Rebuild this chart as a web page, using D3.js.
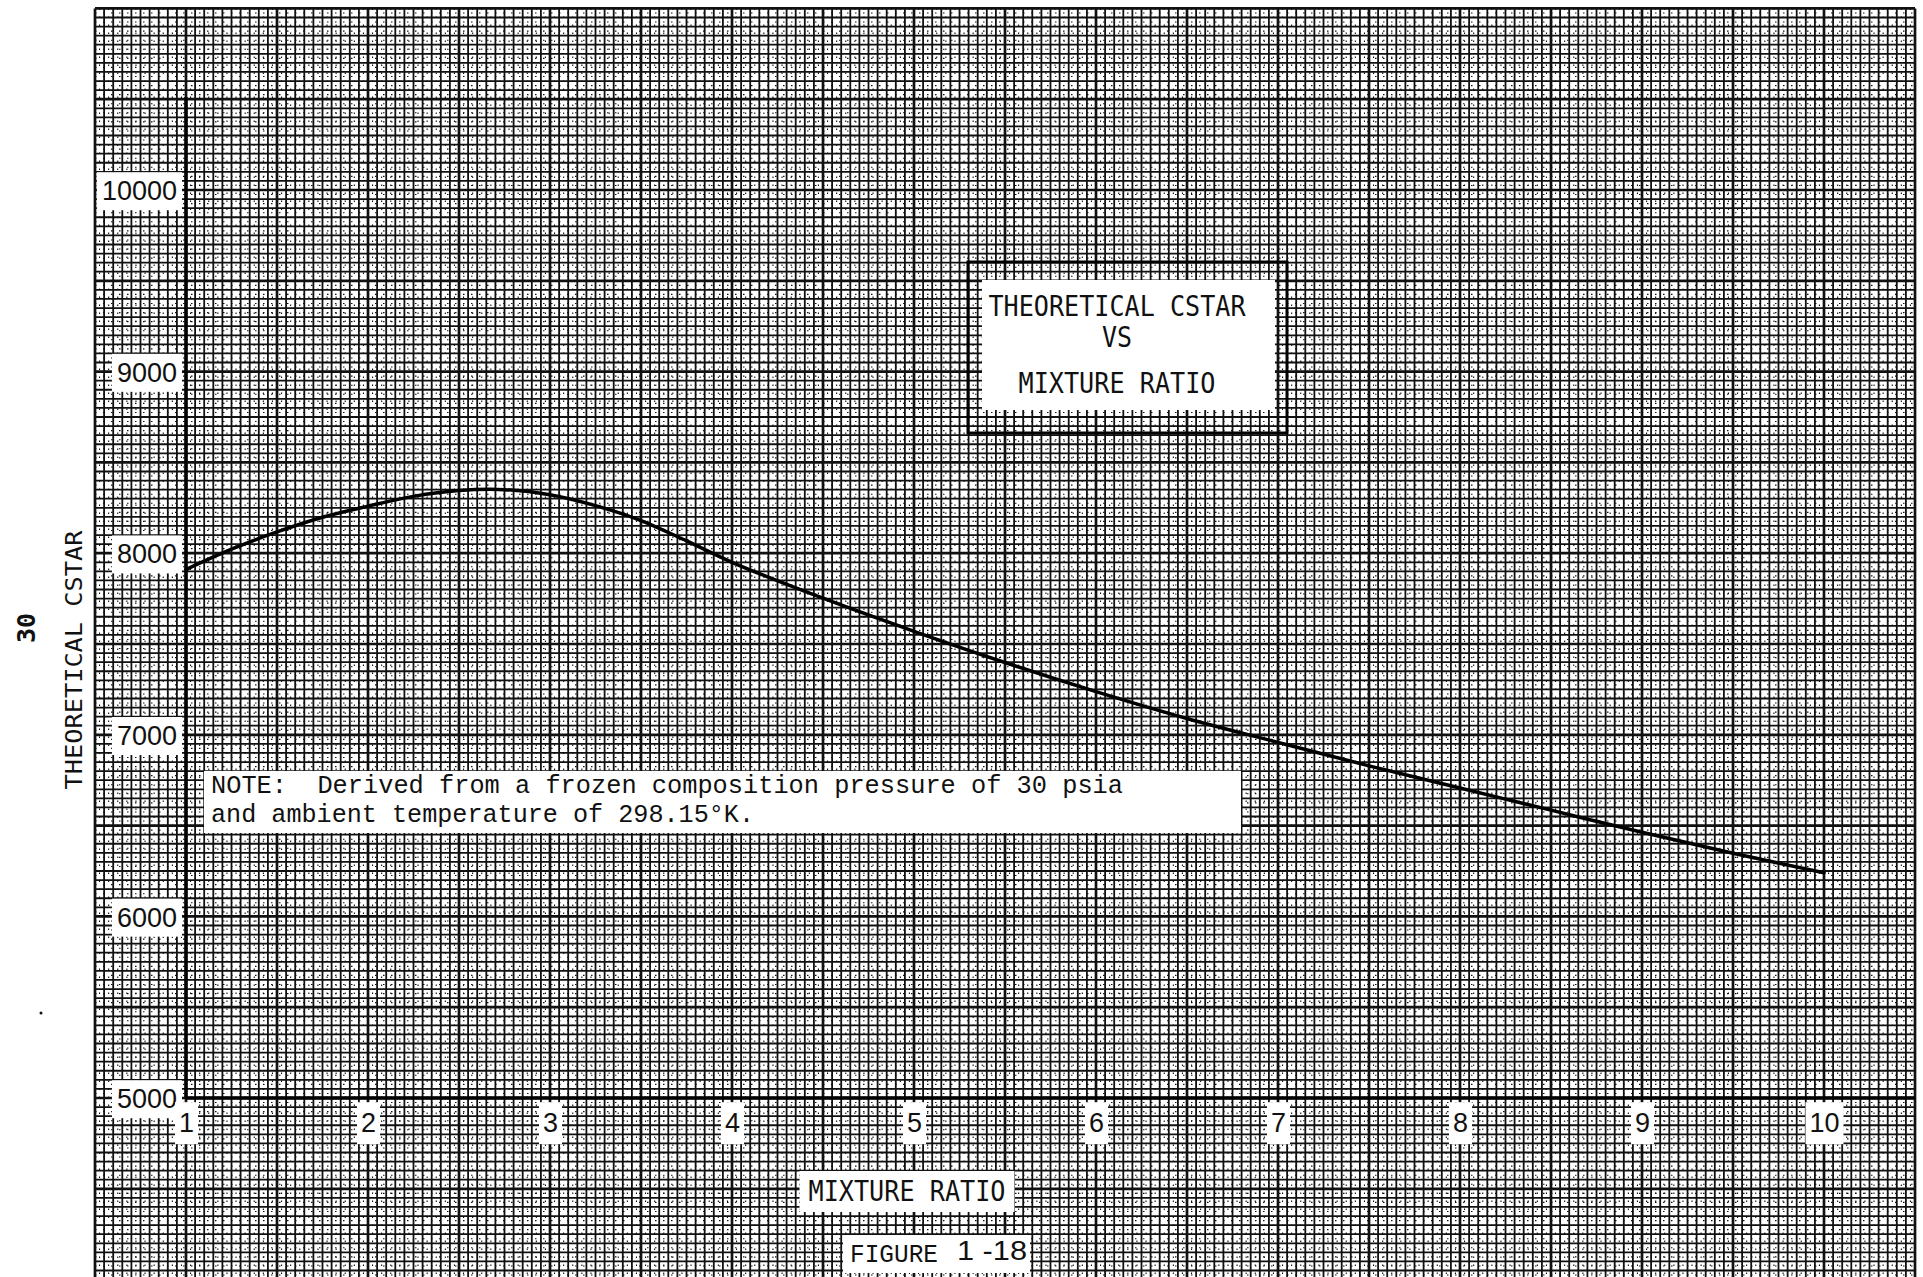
<html>
<head>
<script src="https://d3js.org/d3.v7.min.js"></script>
<style>
body { margin: 0; background: #fff; }
svg { display: block; }
.tick-lab text { font-family: "Liberation Sans", Arial, sans-serif; font-size: 27px; fill: #111; }
.mono { font-family: "DejaVu Sans Mono", monospace; fill: #111; }
.note { font-family: "Liberation Mono", "Courier New", monospace; font-size: 25px; fill: #111; white-space: pre; }
</style>
</head>
<body>
<svg id="chart"></svg>
<script>
// curve
var mixtureRatio = [1, 1.25, 1.5, 1.75, 2, 2.25, 2.5, 2.75, 3, 3.25, 3.5, 3.75, 4, 4.5, 5, 5.5, 6, 6.5, 7, 7.5, 8, 8.5, 9, 9.5, 10];
var cstar = [7910, 8022, 8117, 8198, 8259, 8313, 8345, 8350, 8322, 8262, 8180, 8068, 7950, 7752, 7570, 7398, 7238, 7090, 6958, 6829, 6707, 6585, 6463, 6348, 6240];

var xTicks = [1, 2, 3, 4, 5, 6, 7, 8, 9, 10];
var yTicks = [5000, 6000, 7000, 8000, 9000, 10000];

var titleLines = ["THEORETICAL CSTAR", "VS", "MIXTURE RATIO"];
var noteLines = ["NOTE:  Derived from a frozen composition pressure of 30 psia",
                 "and ambient temperature of 298.15\u00b0K."];

var W = 1923, H = 1277;
var svg = d3.select("#chart").attr("width", W).attr("height", H);

var x = d3.scaleLinear().domain([1, 10]).range([186, 1824]);
var y = d3.scaleLinear().domain([5000, 10000]).range([1098, 190]);

// graph paper, aligned to the scales
var paper = { x0: 0.5, x1: 10.5, y0: 4000, y1: 11000 };
var paperG = svg.append("g").attr("class", "paper");
var nx = Math.round((paper.x1 - paper.x0) / 0.025);
var ny = Math.round((paper.y1 - paper.y0) / 25);

function gridStyle(sel, i) {
	var major = i % 20 === 0, half = i % 2 === 1;
	sel.attr("stroke", "#111")
		.attr("stroke-width", major ? 2.7 : (half ? 1.1 : 1.8))
		.attr("stroke-dasharray", half ? "1.5,6.5" : null);
}

d3.range(nx + 1).forEach(function(i) {
	var v = paper.x0 + i * 0.025;
	paperG.append("line")
		.attr("x1", x(v)).attr("x2", x(v))
		.attr("y1", y(paper.y1)).attr("y2", H)
		.call(gridStyle, i);
});
d3.range(ny + 1).forEach(function(i) {
	var v = paper.y0 + i * 25;
	paperG.append("line")
		.attr("x1", x(paper.x0)).attr("x2", x(paper.x1))
		.attr("y1", y(v)).attr("y2", y(v))
		.call(gridStyle, i);
});

// axes lines
svg.append("line")
	.attr("x1", x(1)).attr("x2", x(1))
	.attr("y1", 97).attr("y2", y(5000))
	.attr("stroke", "#000").attr("stroke-width", 3.5);
svg.append("line")
	.attr("x1", x(1)).attr("x2", x(paper.x1))
	.attr("y1", y(5000)).attr("y2", y(5000))
	.attr("stroke", "#000").attr("stroke-width", 3.5);

// white boxes behind texts
function boxBehind(sel, px, py) {
	sel.each(function() {
		var b = this.getBBox();
		var parent = this.parentNode;
		d3.select(parent).insert("rect", function() { return parent.firstChild; })
			.attr("x", b.x - px).attr("y", b.y - py)
			.attr("width", b.width + 2 * px).attr("height", b.height + 2 * py)
			.attr("fill", "#fff");
	});
}

var yAxis = svg.append("g").attr("class", "tick-lab")
	.attr("transform", "translate(" + x(1) + ",0)")
	.call(d3.axisLeft(y).tickValues(yTicks).tickSize(0).tickPadding(9).tickFormat(d3.format("d")));
yAxis.select(".domain").remove();
yAxis.selectAll("text").attr("dy", "0.36em");
boxBehind(yAxis.selectAll("text"), 5, 4);

var xAxis = svg.append("g").attr("class", "tick-lab")
	.attr("transform", "translate(0," + y(5000) + ")")
	.call(d3.axisBottom(x).tickValues(xTicks).tickSize(0).tickPadding(15).tickFormat(d3.format("d")));
xAxis.select(".domain").remove();
boxBehind(xAxis.selectAll("text"), 4, 6);

// curve
var line = d3.line()
	.x(function(d, i) { return x(mixtureRatio[i]); })
	.y(function(d) { return y(d); })
	.curve(d3.curveCatmullRom);
svg.append("path")
	.datum(cstar)
	.attr("d", line)
	.attr("fill", "none")
	.attr("stroke", "#000")
	.attr("stroke-width", 3.5)
	.attr("stroke-linecap", "round");

// title box
svg.append("rect")
	.attr("x", 968).attr("y", 262).attr("width", 319).attr("height", 171)
	.attr("fill", "none").attr("stroke", "#000").attr("stroke-width", 3);
svg.append("rect")
	.attr("x", 982).attr("y", 280).attr("width", 293).attr("height", 130)
	.attr("fill", "#fff");
var titleY = [316, 347, 393];
var titleW = [257, 30, 197];
svg.selectAll(".ttl").data(titleLines).enter().append("text")
	.attr("class", "mono")
	.attr("x", 1117).attr("y", function(d, i) { return titleY[i]; })
	.attr("text-anchor", "middle")
	.attr("font-size", 28)
	.attr("textLength", function(d, i) { return titleW[i]; })
	.attr("lengthAdjust", "spacingAndGlyphs")
	.text(function(d) { return d; });

// note
svg.append("rect")
	.attr("x", 204).attr("y", 771).attr("width", 1037).attr("height", 62)
	.attr("fill", "#fff");
var noteW = [912, 543];
svg.selectAll(".nt").data(noteLines).enter().append("text")
	.attr("class", "note")
	.attr("xml:space", "preserve")
	.attr("x", 211).attr("y", function(d, i) { return 793 + i * 29; })
	.attr("textLength", function(d, i) { return noteW[i]; })
	.attr("lengthAdjust", "spacingAndGlyphs")
	.text(function(d) { return d; });

// axis titles
var xt = svg.append("g");
xt.append("text")
	.attr("class", "mono")
	.attr("x", 907).attr("y", 1201)
	.attr("text-anchor", "middle")
	.attr("font-size", 28)
	.attr("textLength", 197).attr("lengthAdjust", "spacingAndGlyphs")
	.text("MIXTURE RATIO");
boxBehind(xt.selectAll("text"), 9, 4);

var yt = svg.append("g").attr("transform", "translate(82,660) rotate(-90)");
yt.append("text")
	.attr("class", "mono")
	.attr("x", 0).attr("y", 0)
	.attr("text-anchor", "middle")
	.attr("font-size", 23)
	.attr("textLength", 259).attr("lengthAdjust", "spacingAndGlyphs")
	.text("THEORETICAL CSTAR");

svg.append("text")
	.attr("class", "mono")
	.attr("transform", "translate(35,628) rotate(-90)")
	.attr("text-anchor", "middle")
	.attr("font-size", 25)
	.attr("font-weight", "bold")
	.text("30");
svg.append("circle").attr("cx", 41).attr("cy", 1013).attr("r", 1.5).attr("fill", "#111");

// figure caption
var fig = svg.append("g");
fig.append("text")
	.attr("class", "note")
	.attr("x", 850).attr("y", 1262)
	.attr("font-size", 25)
	.attr("textLength", 88).attr("lengthAdjust", "spacingAndGlyphs")
	.text("FIGURE");
fig.append("text")
	.attr("x", 957).attr("y", 1260)
	.attr("font-family", "Liberation Sans, Arial, sans-serif")
	.attr("font-size", 28)
	.attr("fill", "#111")
	.attr("textLength", 70).attr("lengthAdjust", "spacingAndGlyphs")
	.text("1 -18");
fig.insert("rect", ":first-child")
	.attr("x", 843).attr("y", 1235).attr("width", 187).attr("height", 38)
	.attr("fill", "#fff");
</script>
</body>
</html>
